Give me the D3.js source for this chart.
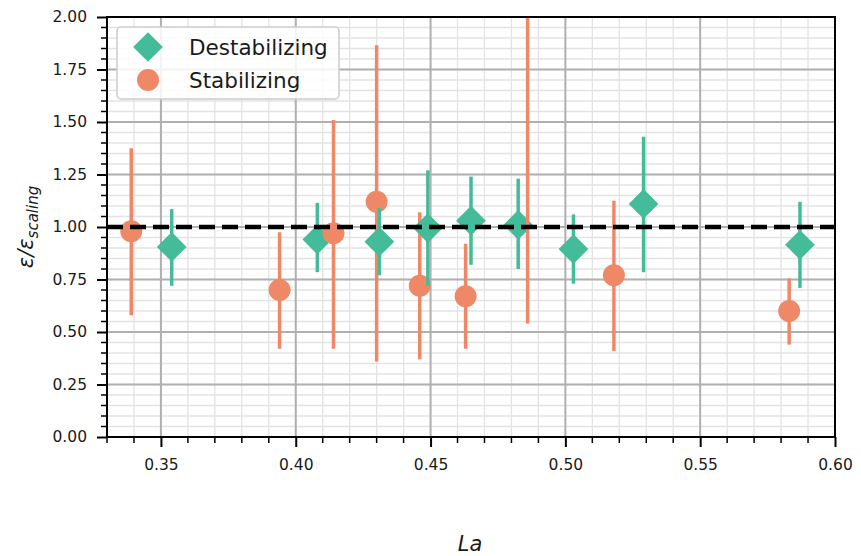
<!DOCTYPE html>
<html>
<head>
<meta charset="utf-8">
<script src="https://cdn.jsdelivr.net/npm/d3@7"></script>
<style>
  html, body { margin: 0; padding: 0; background: #fff; }
  svg { display: block; }
  svg text { font-family: "DejaVu Sans", sans-serif; }
</style>
</head>
<body>
<div id="chart"></div>
<script>
// Stabilizing runs (orange circles)
const laStab = [0.339, 0.394, 0.414, 0.430, 0.446, 0.463, 0.486, 0.518, 0.583];
const epsStab = [0.98, 0.70, 0.97, 1.12, 0.72, 0.67, 2.30, 0.77, 0.60];
const stabLow = [0.58, 0.42, 0.42, 0.36, 0.37, 0.42, 0.54, 0.41, 0.44];
const stabHigh = [1.375, 0.975, 1.51, 1.865, 1.07, 0.92, 4.06, 1.125, 0.755];

// Destabilizing runs (green diamonds)
const laDestab = [0.354, 0.408, 0.431, 0.449, 0.465, 0.4825, 0.503, 0.529, 0.587];
const epsDestab = [0.905, 0.94, 0.93, 0.995, 1.03, 1.01, 0.895, 1.11, 0.915];
const destabLow = [0.72, 0.785, 0.77, 0.72, 0.82, 0.80, 0.73, 0.785, 0.71];
const destabHigh = [1.085, 1.115, 1.09, 1.27, 1.24, 1.23, 1.06, 1.43, 1.12];

const xTicks = [0.35, 0.40, 0.45, 0.50, 0.55, 0.60];
const yTicks = [0.00, 0.25, 0.50, 0.75, 1.00, 1.25, 1.50, 1.75, 2.00];
const seriesNames = ['Destabilizing', 'Stabilizing'];
const refLine = 1.0;

const green = '#44BB99';
const orange = '#EE8866';

const W = 861, H = 556;
const margin = { top: 17, right: 26, bottom: 119, left: 107 };
const width = W - margin.left - margin.right;
const height = H - margin.top - margin.bottom;

const svg = d3.select('#chart').append('svg')
  .attr('width', W)
  .attr('height', H);

const g = svg.append('g')
  .attr('transform', `translate(${margin.left},${margin.top})`);

const x = d3.scaleLinear().domain([0.33, 0.60]).range([0, width]);
const y = d3.scaleLinear().domain([0, 2]).range([height, 0]);

// minor grid
const xMinor = d3.range(0.33, 0.6001, 0.01).map(v => +v.toFixed(2));
const yMinor = d3.range(0, 2.0001, 0.05).map(v => +v.toFixed(2));

g.append('g').selectAll('line')
  .data(xMinor)
  .enter().append('line')
  .attr('x1', d => x(d)).attr('x2', d => x(d))
  .attr('y1', 0).attr('y2', height)
  .attr('stroke', '#e3e3e3').attr('stroke-width', 1.3);

g.append('g').selectAll('line')
  .data(yMinor)
  .enter().append('line')
  .attr('x1', 0).attr('x2', width)
  .attr('y1', d => y(d)).attr('y2', d => y(d))
  .attr('stroke', '#e3e3e3').attr('stroke-width', 1.3);

// major grid
g.append('g').selectAll('line')
  .data(xTicks)
  .enter().append('line')
  .attr('x1', d => x(d)).attr('x2', d => x(d))
  .attr('y1', 0).attr('y2', height)
  .attr('stroke', '#b0b0b0').attr('stroke-width', 2);

g.append('g').selectAll('line')
  .data(yTicks)
  .enter().append('line')
  .attr('x1', 0).attr('x2', width)
  .attr('y1', d => y(d)).attr('y2', d => y(d))
  .attr('stroke', '#b0b0b0').attr('stroke-width', 2);

// clip for data
svg.append('defs').append('clipPath').attr('id', 'plotClip')
  .append('rect').attr('x', 0).attr('y', 0).attr('width', width).attr('height', height);

const plot = g.append('g').attr('clip-path', 'url(#plotClip)');

// merge points, drawn in order of La
const points = [];
laDestab.forEach((la, i) => points.push({ la, v: epsDestab[i], lo: destabLow[i], hi: destabHigh[i], kind: 'd' }));
laStab.forEach((la, i) => points.push({ la, v: epsStab[i], lo: stabLow[i], hi: stabHigh[i], kind: 's' }));
points.sort((a, b) => a.la - b.la);

const diamond = d3.symbol().type(d3.symbolSquare).size(21 * 21);

points.forEach(p => {
  const col = p.kind === 'd' ? green : orange;
  plot.append('line')
    .attr('x1', x(p.la)).attr('x2', x(p.la))
    .attr('y1', y(p.lo)).attr('y2', y(p.hi))
    .attr('stroke', col).attr('stroke-width', 3.5);
  if (p.kind === 'd') {
    plot.append('path')
      .attr('d', diamond)
      .attr('transform', `translate(${x(p.la)},${y(p.v)}) rotate(45)`)
      .attr('fill', col);
  } else {
    plot.append('circle')
      .attr('cx', x(p.la)).attr('cy', y(p.v))
      .attr('r', 11)
      .attr('fill', col);
  }
});

// reference line
g.append('line')
  .attr('x1', 0).attr('x2', width)
  .attr('y1', y(refLine)).attr('y2', y(refLine))
  .attr('stroke', '#000')
  .attr('stroke-width', 4.5)
  .attr('stroke-dasharray', '16,7');

// axes
const xAxis = g.append('g')
  .attr('transform', `translate(0,${height})`)
  .call(d3.axisBottom(x).tickValues(xTicks).tickFormat(d3.format('.2f')).tickSize(10).tickPadding(12));
const yAxis = g.append('g')
  .call(d3.axisLeft(y).tickValues(yTicks).tickFormat(d3.format('.2f')).tickSize(10).tickPadding(10));

[xAxis, yAxis].forEach(a => {
  a.attr('font-family', null).attr('font-size', null);
  a.select('.domain').remove();
  a.selectAll('line').attr('stroke', '#000').attr('stroke-width', 2);
  a.selectAll('text').style('font-size', '15.5px').attr('fill', '#1a1a1a');
});

// minor ticks
g.append('g').selectAll('line')
  .data(xMinor.filter(v => !xTicks.some(t => Math.abs(t - v) < 1e-6)))
  .enter().append('line')
  .attr('x1', d => x(d)).attr('x2', d => x(d))
  .attr('y1', height).attr('y2', height + 6)
  .attr('stroke', '#000').attr('stroke-width', 1.5);

g.append('g').selectAll('line')
  .data(yMinor.filter(v => !yTicks.some(t => Math.abs(t - v) < 1e-6)))
  .enter().append('line')
  .attr('x1', -6).attr('x2', 0)
  .attr('y1', d => y(d)).attr('y2', d => y(d))
  .attr('stroke', '#000').attr('stroke-width', 1.5);

// frame
g.append('rect')
  .attr('x', 0).attr('y', 0)
  .attr('width', width).attr('height', height)
  .attr('fill', 'none')
  .attr('stroke', '#000')
  .attr('stroke-width', 2);

// axis labels
svg.append('text')
  .attr('x', 470)
  .attr('y', 551)
  .attr('text-anchor', 'middle')
  .style('font-size', '21px')
  .style('font-style', 'italic')
  .attr('fill', '#1a1a1a')
  .text('La');

const yl = svg.append('text')
  .attr('transform', `translate(33,${margin.top + height / 2}) rotate(-90)`)
  .attr('text-anchor', 'middle')
  .style('font-size', '21px')
  .style('font-style', 'italic')
  .attr('fill', '#1a1a1a');
yl.append('tspan').text('ε/ε');
yl.append('tspan').attr('dy', 5).style('font-size', '15px').text('scaling');

// legend
const leg = svg.append('g').attr('transform', 'translate(117,27)');
leg.append('rect')
  .attr('width', 222).attr('height', 72)
  .attr('rx', 4)
  .attr('fill', '#fff').attr('fill-opacity', 0.85)
  .attr('stroke', '#cccccc').attr('stroke-width', 1.5);

seriesNames.forEach((name, i) => {
  const cy = 20 + i * 33;
  if (i === 0) {
    leg.append('path')
      .attr('d', diamond)
      .attr('transform', `translate(31,${cy}) rotate(45)`)
      .attr('fill', green);
  } else {
    leg.append('circle').attr('cx', 31).attr('cy', cy).attr('r', 11).attr('fill', orange);
  }
  leg.append('text')
    .attr('x', 72).attr('y', cy)
    .attr('dy', '0.35em')
    .style('font-size', '21.5px')
    .attr('fill', '#1a1a1a')
    .text(name);
});
</script>
</body>
</html>
